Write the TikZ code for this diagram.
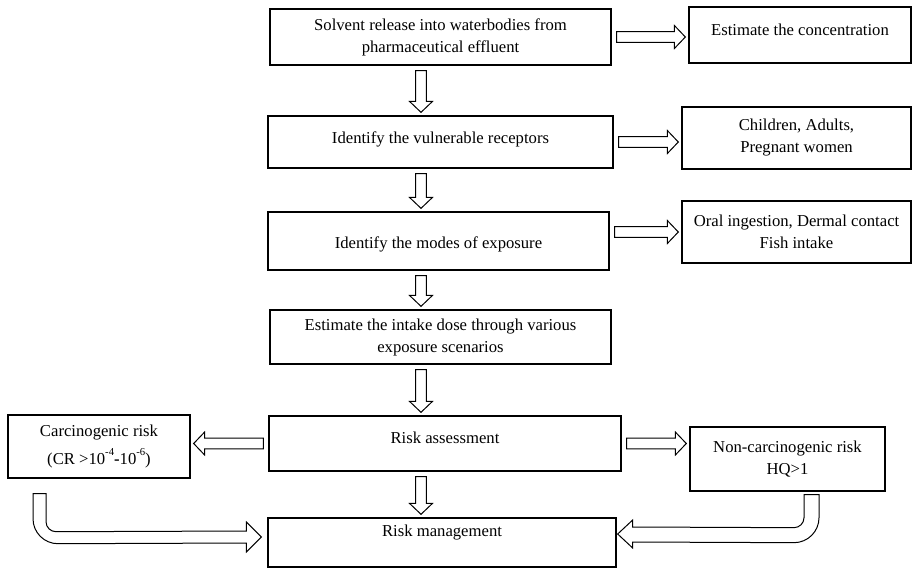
\documentclass[tikz,border=0pt]{standalone}
\usepackage{fontspec}
\setmainfont{Liberation Serif}
\usetikzlibrary{calc}

\begin{document}
\begin{tikzpicture}[
    x=0.75pt, y=-0.75pt,
    font=\fontsize{12.5}{16.5}\selectfont,
    stage/.style={draw, line width=1pt, align=center, inner sep=2pt},
    lift/.style={text depth=#1},
    drop/.style={text height=#1},
    blockline/.style={draw, line width=0.75pt},
    blockarrow/.style={blockline, to path={
        let \p1=(\tikztostart), \p2=(\tikztotarget),
            \n1={atan2(\y2-\y1,\x2-\x1)},
            \n2={veclen(\x2-\x1,\y2-\y1)-3.75-2.25-8.2} in
        ($(\p1)+(\n1:3.75pt)+(\n1+90:4.1pt)$) -- ++(\n1:\n2) -- ++(\n1+90:4.5pt)
        -- ($(\p2)+(\n1:-2.25pt)$)
        -- ($(\p2)+(\n1:-10.45pt)+(\n1-90:8.6pt)$) -- ++(\n1+90:4.5pt)
        -- ($(\p1)+(\n1:3.75pt)+(\n1-90:4.1pt)$) -- cycle}}
]
\useasboundingbox (0,0) rectangle (912,568);

    % Main chain
    \node (source) [stage, minimum width=255.8pt, minimum height=42pt] at (440.5,37)
        {Solvent release into waterbodies from\\pharmaceutical effluent};
    \node (receptors) [stage, minimum width=258.8pt, minimum height=39pt, lift=7.2pt] at (440.5,142)
        {Identify the vulnerable receptors};
    \node (exposure) [stage, minimum width=255.8pt, minimum height=43.5pt, drop=14.5pt] at (438.5,241)
        {Identify the modes of exposure};
    \node (intake) [stage, minimum width=255.8pt, minimum height=40.5pt] at (440.5,337)
        {Estimate the intake dose through various\\exposure scenarios};
    \node (assessment) [stage, minimum width=264pt, minimum height=41.3pt, lift=8.2pt] at (445,443.5)
        {Risk assessment};
    \node (management) [stage, minimum width=261pt, minimum height=36.8pt, lift=17pt] at (442,542.5)
        {Risk management};

    % Side boxes
    \node (concentration) [stage, minimum width=166.5pt, minimum height=42pt, lift=7.5pt] at (800,35)
        {Estimate the concentration};
    \node (groups) [stage, minimum width=171.8pt, minimum height=46.5pt] at (796.5,138)
        {Children, Adults,\\Pregnant women};
    \node (routes) [stage, minimum width=171.8pt, minimum height=46.5pt] at (796.5,232)
        {Oral ingestion, Dermal contact\\Fish intake};
    \node (carcino) [stage, minimum width=136.5pt, minimum height=47.3pt] at (99,446.5)
        {Carcinogenic risk\\[5pt](CR >10\raisebox{1.2ex}{\footnotesize -4}\textbf{-}10\raisebox{1.2ex}{\footnotesize -6})};
    \node (non_carcino) [stage, minimum width=146.3pt, minimum height=48pt] at (787.5,459)
        {Non-carcinogenic risk\\HQ>1};

    \coordinate (axis) at (421,0);

    % Downward arrows
    \draw [blockarrow] (source.south -| axis) to (receptors.north -| axis);
    \draw [blockarrow] (receptors.south -| axis) to (exposure.north -| axis);
    \draw [blockarrow] (exposure.south -| axis) to (intake.north -| axis);
    \draw [blockarrow] (intake.south -| axis) to (assessment.north -| axis);
    \draw [blockarrow] (assessment.south -| axis) to (management.north -| axis);

    % Side arrows
    \draw [blockarrow] (source.east) to (source.east -| concentration.west);
    \draw [blockarrow] (receptors.east) to (receptors.east -| groups.west);
    \draw [blockarrow] (exposure.east |- routes.west) to (routes.west);
    \draw [blockarrow] (assessment.west) to (assessment.west -| carcino.east);
    \draw [blockarrow] (assessment.east) to (assessment.east -| non_carcino.west);

    % Bent arrows into risk management
    \draw [blockline] ($(carcino.south)+(-66,15)$) -- ($(carcino.south)+(-53,15)$)
        -- ($(carcino.south)+(-53,43)$)
        .. controls ($(carcino.south)+(-53,48.5)$) and ($(carcino.south)+(-48.5,53)$) .. ($(carcino.south)+(-43,53)$)
        -- ($(management.west)+(-21,-11.5)$) -- ($(management.west)+(-21,-20.5)$)
        -- ($(management.west)+(-6,-5.5)$)
        -- ($(management.west)+(-21,9.5)$) -- ($(management.west)+(-21,0.5)$)
        -- ($(carcino.south)+(-41,65)$)
        .. controls ($(carcino.south)+(-54.8,65)$) and ($(carcino.south)+(-66,53.8)$) .. ($(carcino.south)+(-66,40)$)
        -- cycle;
    \draw [blockline] ($(non_carcino.south)+(16.5,3)$) -- ($(non_carcino.south)+(31.5,3)$)
        -- ($(non_carcino.south)+(31.5,26)$)
        .. controls ($(non_carcino.south)+(31.5,39.8)$) and ($(non_carcino.south)+(20.3,51)$) .. ($(non_carcino.south)+(6.5,51)$)
        -- ($(management.east)+(16,-0.5)$) -- ($(management.east)+(16,5.5)$)
        -- ($(management.east)+(1,-8.5)$)
        -- ($(management.east)+(16,-22.5)$) -- ($(management.east)+(16,-15.5)$)
        -- ($(non_carcino.south)+(6.5,36)$)
        .. controls ($(non_carcino.south)+(12,36)$) and ($(non_carcino.south)+(16.5,31.5)$) .. ($(non_carcino.south)+(16.5,26)$)
        -- cycle;

\end{tikzpicture}
\end{document}
